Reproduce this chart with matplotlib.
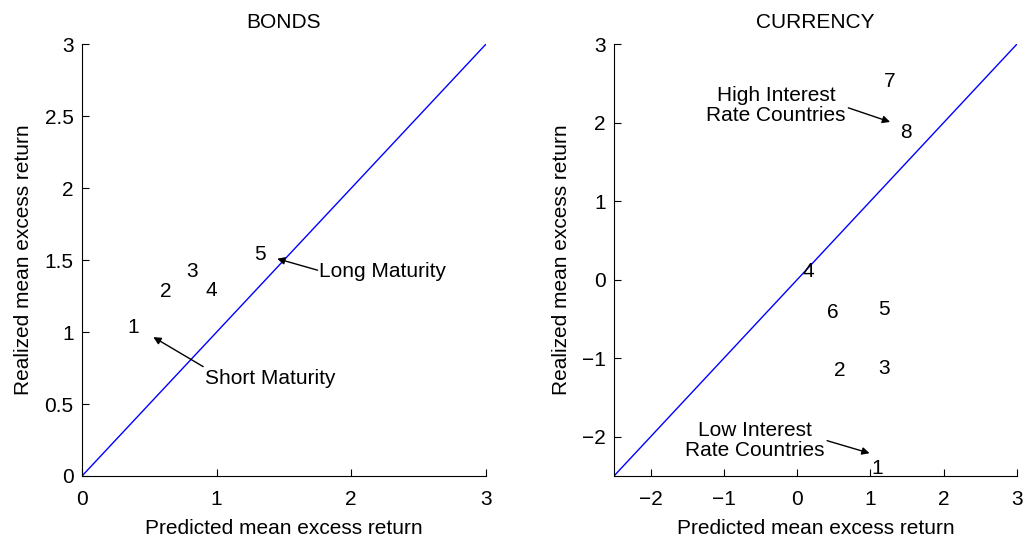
import matplotlib
matplotlib.use("Agg")
import matplotlib.pyplot as plt

FS = 15
plt.rcParams['font.family'] = ['Liberation Sans', 'DejaVu Sans']
plt.rcParams['font.size'] = FS

# Bonds panel: maturity portfolios
bond_labels = ['1', '2', '3', '4', '5']
bond_pred = [0.38, 0.62, 0.82, 0.96, 1.32]
bond_real = [1.03, 1.28, 1.42, 1.29, 1.54]

# Currency panel: interest-rate sorted country portfolios
cur_labels = ['1', '2', '3', '4', '5', '6', '7', '8']
cur_pred = [1.10, 0.58, 1.19, 0.15, 1.19, 0.49, 1.27, 1.48]
cur_real = [-2.40, -1.16, -1.13, 0.10, -0.38, -0.42, 2.52, 1.88]

fig = plt.figure(figsize=(10.25, 5.37), dpi=100)
ax1 = fig.add_axes([0.080, 0.1136, 0.394, 0.804])
ax2 = fig.add_axes([0.599, 0.1136, 0.393, 0.804])

arrow = dict(arrowstyle='-|>', color='black', lw=1, mutation_scale=11,
             shrinkA=0, shrinkB=0)


def style(ax):
    for s in ['top', 'right']:
        ax.spines[s].set_visible(False)
    ax.tick_params(direction='in', length=5, labelsize=FS)
    ax.tick_params(axis='x', pad=10)
    ax.tick_params(axis='y', pad=6)
    ax.set_xlabel('Predicted mean excess return', labelpad=7)
    ax.set_ylabel('Realized mean excess return', labelpad=8)


# BONDS
ax1.plot([0, 3], [0, 3], color='blue', lw=1)
for lab, x, y in zip(bond_labels, bond_pred, bond_real):
    ax1.text(x, y, lab, ha='center', va='center')
ax1.text(1.76, 1.42, 'Long Maturity', ha='left', va='center')
ax1.annotate('', xy=(1.45, 1.51), xytext=(1.75, 1.43), arrowprops=arrow)
ax1.text(0.91, 0.68, 'Short Maturity', ha='left', va='center')
ax1.annotate('', xy=(0.53, 0.965), xytext=(0.90, 0.76), arrowprops=arrow)
ax1.set_xlim(0, 3)
ax1.set_ylim(0, 3)
ax1.set_xticks([0, 1, 2, 3])
ax1.set_yticks([0, 0.5, 1, 1.5, 2, 2.5, 3])
ax1.set_yticklabels(['0', '0.5', '1', '1.5', '2', '2.5', '3'])
ax1.set_title('BONDS', fontsize=FS, pad=12)
style(ax1)

# CURRENCY
ax2.plot([-2.5, 3], [-2.5, 3], color='blue', lw=1)
for lab, x, y in zip(cur_labels, cur_pred, cur_real):
    ax2.text(x, y, lab, ha='center', va='center', clip_on=True)
ax2.text(-0.29, 2.22, 'High Interest\nRate Countries', ha='center', va='center',
         linespacing=1.05)
ax2.annotate('', xy=(1.27, 2.01), xytext=(0.70, 2.19), arrowprops=arrow)
ax2.text(-0.58, -2.05, 'Low Interest\nRate Countries', ha='center', va='center',
         linespacing=1.05)
ax2.annotate('', xy=(0.99, -2.21), xytext=(0.41, -2.05), arrowprops=arrow)
ax2.set_xlim(-2.5, 3)
ax2.set_ylim(-2.5, 3)
ax2.set_xticks([-2, -1, 0, 1, 2, 3])
ax2.set_yticks([-2, -1, 0, 1, 2, 3])
ax2.set_title('CURRENCY', fontsize=FS, pad=12)
style(ax2)

fig.savefig('out.png', dpi=100)
